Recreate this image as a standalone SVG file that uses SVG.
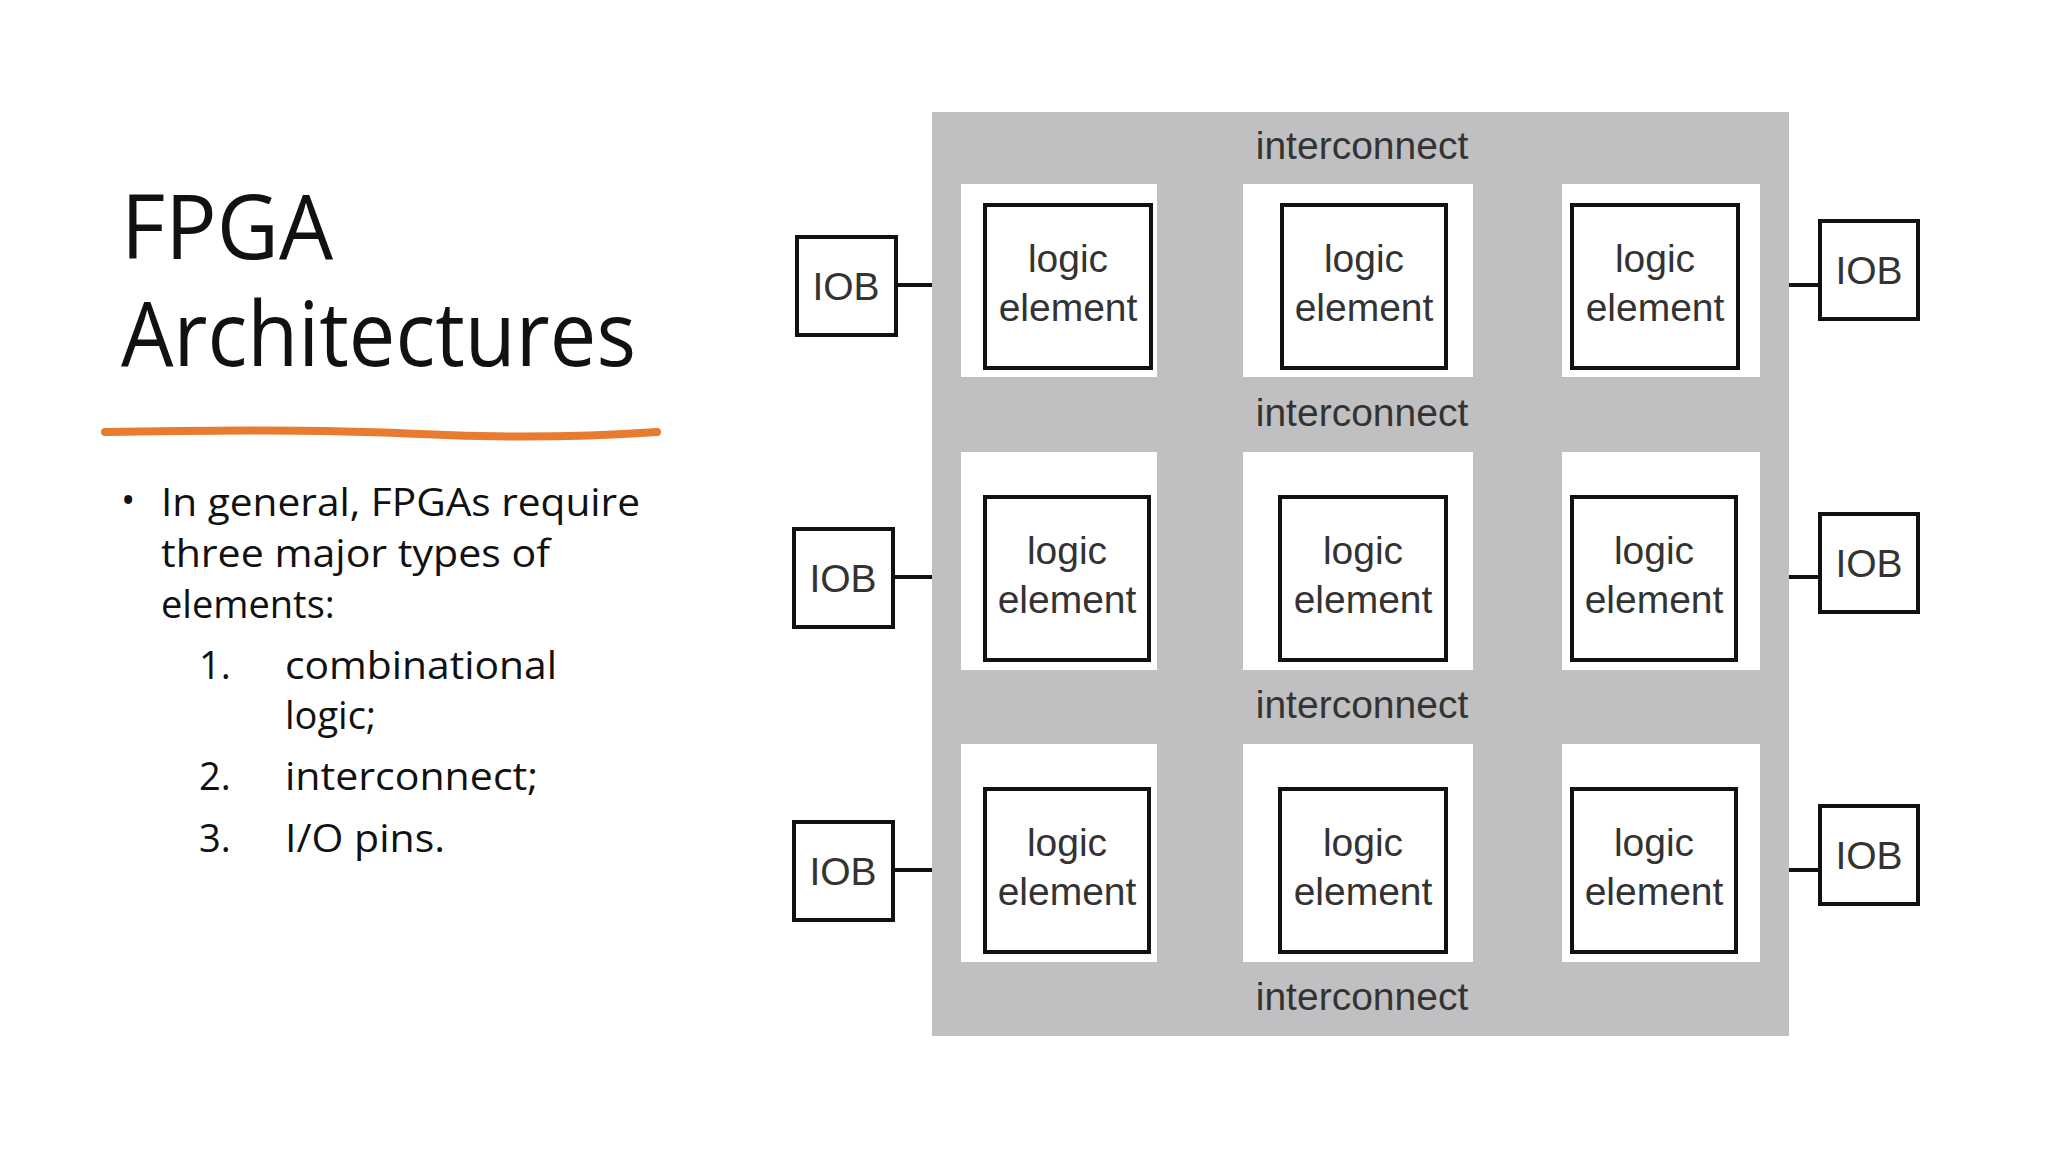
<svg xmlns="http://www.w3.org/2000/svg" width="2048" height="1152" viewBox="0 0 2048 1152">
<style>
.t{font-family:"Open Sans","Liberation Sans",sans-serif;fill:#111}
.d{font-family:"Liberation Sans",Arial,sans-serif;font-size:39px;fill:#333;text-anchor:middle}
.cell{fill:#fff}
.box{fill:#fff;stroke:#111;stroke-width:4}
.ln{stroke:#111;stroke-width:4}
</style>
<rect width="2048" height="1152" fill="#fff"/>
<text class="t" x="121" y="259" font-size="90" textLength="212" lengthAdjust="spacingAndGlyphs">FPGA</text>
<text class="t" x="121" y="366" font-size="90" textLength="515" lengthAdjust="spacingAndGlyphs">Architectures</text>
<path d="M105 432 Q300 428 420 434 T657 432" stroke="#e87b2f" stroke-width="8" fill="none" stroke-linecap="round"/>
<g class="t" font-size="38">
<text x="121" y="514">•</text>
<text x="161" y="516" textLength="479" lengthAdjust="spacingAndGlyphs">In general, FPGAs require</text>
<text x="161" y="567" textLength="389" lengthAdjust="spacingAndGlyphs">three major types of</text>
<text x="161" y="618">elements:</text>
<text x="199" y="679">1.</text><text x="285" y="679" textLength="272" lengthAdjust="spacingAndGlyphs">combinational</text>
<text x="285" y="729">logic;</text>
<text x="199" y="790">2.</text><text x="285" y="790" textLength="253" lengthAdjust="spacingAndGlyphs">interconnect;</text>
<text x="199" y="852">3.</text><text x="285" y="852" textLength="160" lengthAdjust="spacingAndGlyphs">I/O pins.</text>
</g>
<g id="fabric">
<rect x="932" y="112" width="857" height="924" fill="#c0c0c2"/>
<text class="d" x="1362" y="159">interconnect</text>
<text class="d" x="1362" y="426">interconnect</text>
<text class="d" x="1362" y="718">interconnect</text>
<text class="d" x="1362" y="1010">interconnect</text>
</g>
<g id="cells">
<rect class="cell" x="961" y="184" width="196" height="193"/><rect class="cell" x="1243" y="184" width="230" height="193"/><rect class="cell" x="1562" y="184" width="198" height="193"/>
<rect class="cell" x="961" y="452" width="196" height="218"/><rect class="cell" x="1243" y="452" width="230" height="218"/><rect class="cell" x="1562" y="452" width="198" height="218"/>
<rect class="cell" x="961" y="744" width="196" height="218"/><rect class="cell" x="1243" y="744" width="230" height="218"/><rect class="cell" x="1562" y="744" width="198" height="218"/>
</g>
<g id="connectors">
<line class="ln" x1="896" y1="285" x2="932" y2="285"/>
<line class="ln" x1="893" y1="577" x2="932" y2="577"/>
<line class="ln" x1="893" y1="870" x2="932" y2="870"/>
<line class="ln" x1="1789" y1="285" x2="1819" y2="285"/>
<line class="ln" x1="1789" y1="577" x2="1819" y2="577"/>
<line class="ln" x1="1789" y1="870" x2="1819" y2="870"/>
</g>
<g id="le11"><rect class="box" x="985" y="205" width="166" height="163"/><text class="d" x="1068" y="272">logic</text><text class="d" x="1068" y="321">element</text></g>
<g id="le12"><rect class="box" x="1282" y="205" width="164" height="163"/><text class="d" x="1364" y="272">logic</text><text class="d" x="1364" y="321">element</text></g>
<g id="le13"><rect class="box" x="1572" y="205" width="166" height="163"/><text class="d" x="1655" y="272">logic</text><text class="d" x="1655" y="321">element</text></g>
<g id="le21"><rect class="box" x="985" y="497" width="164" height="163"/><text class="d" x="1067" y="564">logic</text><text class="d" x="1067" y="613">element</text></g>
<g id="le22"><rect class="box" x="1280" y="497" width="166" height="163"/><text class="d" x="1363" y="564">logic</text><text class="d" x="1363" y="613">element</text></g>
<g id="le23"><rect class="box" x="1572" y="497" width="164" height="163"/><text class="d" x="1654" y="564">logic</text><text class="d" x="1654" y="613">element</text></g>
<g id="le31"><rect class="box" x="985" y="789" width="164" height="163"/><text class="d" x="1067" y="856">logic</text><text class="d" x="1067" y="905">element</text></g>
<g id="le32"><rect class="box" x="1280" y="789" width="166" height="163"/><text class="d" x="1363" y="856">logic</text><text class="d" x="1363" y="905">element</text></g>
<g id="le33"><rect class="box" x="1572" y="789" width="164" height="163"/><text class="d" x="1654" y="856">logic</text><text class="d" x="1654" y="905">element</text></g>
<g id="iobL1"><rect class="box" x="797" y="237" width="99" height="98"/><text class="d" x="846" y="300">IOB</text></g>
<g id="iobL2"><rect class="box" x="794" y="529" width="99" height="98"/><text class="d" x="843" y="592">IOB</text></g>
<g id="iobL3"><rect class="box" x="794" y="822" width="99" height="98"/><text class="d" x="843" y="885">IOB</text></g>
<g id="iobR1"><rect class="box" x="1820" y="221" width="98" height="98"/><text class="d" x="1869" y="284">IOB</text></g>
<g id="iobR2"><rect class="box" x="1820" y="514" width="98" height="98"/><text class="d" x="1869" y="577">IOB</text></g>
<g id="iobR3"><rect class="box" x="1820" y="806" width="98" height="98"/><text class="d" x="1869" y="869">IOB</text></g>
</svg>
